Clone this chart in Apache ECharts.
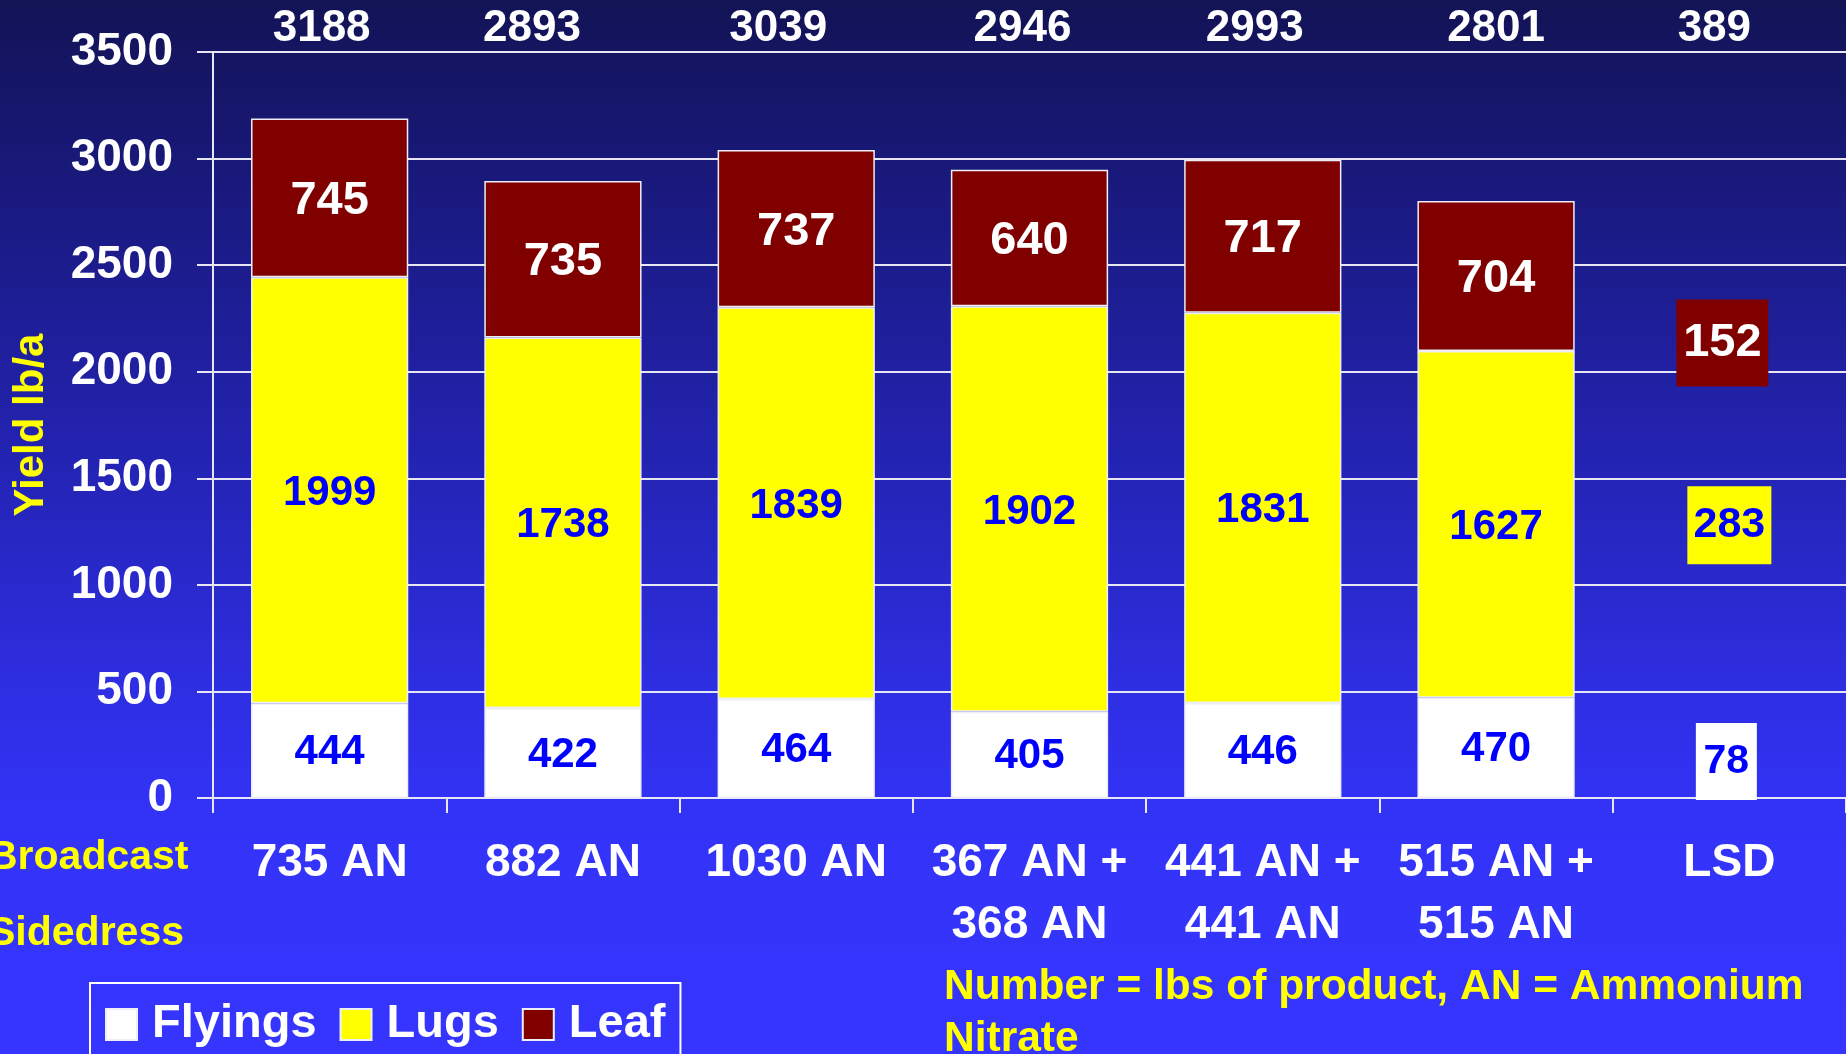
<!DOCTYPE html>
<html>
<head>
<meta charset="utf-8">
<script src="https://cdn.jsdelivr.net/npm/echarts@6/dist/echarts.min.js"></script>
<style>
html,body{margin:0;padding:0;width:1846px;height:1054px;overflow:hidden;}
#chart{width:1846px;height:1054px;}
</style>
</head>
<body>
<div id="chart"></div>
<script>
// ---- data ----
const categories = ['735 AN', '882 AN', '1030 AN', '367 AN +\n368 AN', '441 AN +\n441 AN', '515 AN +\n515 AN', 'LSD'];
const flyings = [444, 422, 464, 405, 446, 470, null];
const lugs = [1999, 1738, 1839, 1902, 1831, 1627, null];
const leaf = [745, 735, 737, 640, 717, 704, null];
const totals = ['3188', '2893', '3039', '2946', '2993', '2801', '389'];
const lsdLabels = ['152', '283', '78'];        // Leaf, Lugs, Flyings LSD
const lsdAnchors = [2135, 1280, 171];          // where each LSD box sits on the yield axis
const yMin = 0, yMax = 3500, yStep = 500;
const seriesNames = ['Flyings', 'Lugs', 'Leaf'];

// ---- style ----
const FONT = '"Liberation Sans", Arial, Helvetica, sans-serif';
const GRIDC = '#e6e6f4';
const colors = { Flyings: '#ffffff', Lugs: '#ffff00', Leaf: '#800000' };
const totalShift = [8, 31, 18, 7, 8, 0, 15]; // px the hand-placed totals sit left of centre

const chart = echarts.init(document.getElementById('chart'), null, { renderer: 'canvas' });

function barSeries(name, data, labelColor, labelSize, dy) {
  return {
    name: name,
    type: 'bar',
    stack: 'yield',
    xAxisIndex: 0,
    barCategoryGap: '32.6%',
    data: data,
    itemStyle: { color: colors[name], borderColor: '#eeeef6', borderWidth: 1.5 },
    label: {
      show: true, position: 'inside', formatter: '{c}', offset: [0, dy],
      color: labelColor, fontFamily: FONT, fontWeight: 'bold', fontSize: labelSize
    },
    emphasis: { disabled: true }
  };
}

const lsdStyles = [
  { color: '#800000', size: [92, 87], off: [-7, 0], text: '#ffffff', fs: 47 },
  { color: '#ffff00', size: [84, 78], off: [0, 0], text: '#0000ff', fs: 43 },
  { color: '#ffffff', size: [61, 77], off: [-3, 0], text: '#0000ff', fs: 41 }
];

const option = {
  animation: false,
  backgroundColor: new echarts.graphic.LinearGradient(0, 0, 0, 1, [
    { offset: 0, color: '#131356' },
    { offset: 0.2, color: '#1a1a82' },
    { offset: 0.45, color: '#2424b6' },
    { offset: 0.65, color: '#2e2ee2' },
    { offset: 0.78, color: '#3333f8' },
    { offset: 1, color: '#3535ff' }
  ]),
  grid: { left: 213, right: 0, top: 52, bottom: 256, outerBoundsMode: 'none', containLabel: false },
  legend: {
    data: seriesNames,
    left: 90, top: 983,
    orient: 'horizontal',
    padding: [18, 15, 40, 15],
    borderColor: '#ffffff', borderWidth: 2,
    itemWidth: 31, itemHeight: 31, itemGap: 23,
    icon: 'rect',
    selectedMode: false,
    textStyle: { color: '#ffffff', fontFamily: FONT, fontWeight: 'bold', fontSize: 47, padding: [0, 0, 0, 10] }
  },
  xAxis: [
    {
      type: 'category', data: categories, position: 'bottom',
      axisLine: { show: true, lineStyle: { color: GRIDC, width: 2 } },
      axisTick: { show: true, length: 15, interval: 0, lineStyle: { color: GRIDC, width: 2 } },
      axisLabel: {
        interval: 0, margin: 34, color: '#ffffff', fontFamily: FONT, fontWeight: 'bold',
        fontSize: 46, lineHeight: 62, hideOverlap: false
      },
      splitLine: { show: false }
    },
    {
      type: 'category', position: 'top',
      data: totals.map((t, i) => ({ value: t, textStyle: { padding: [0, totalShift[i] * 2, 0, 0] } })),
      axisLine: { show: false }, axisTick: { show: false },
      axisLabel: {
        interval: 0, margin: 1, color: '#ffffff', fontFamily: FONT, fontWeight: 'bold',
        fontSize: 44, hideOverlap: false
      },
      splitLine: { show: false }
    }
  ],
  yAxis: {
    type: 'value', min: yMin, max: yMax, interval: yStep,
    name: 'Yield lb/a', nameLocation: 'middle', nameRotate: 90, nameGap: 161,
    nameTextStyle: { color: '#ffff00', fontFamily: FONT, fontWeight: 'bold', fontSize: 42 },
    axisLine: { show: true, lineStyle: { color: GRIDC, width: 2 } },
    axisTick: { show: true, length: 16, lineStyle: { color: GRIDC, width: 2 } },
    axisLabel: {
      margin: 40, color: '#ffffff', fontFamily: FONT, fontWeight: 'bold', fontSize: 46,
      formatter: v => String(v)
    },
    splitLine: { show: true, lineStyle: { color: GRIDC, width: 2 } }
  },
  series: [
    barSeries('Flyings', flyings, '#0000ff', 42, 2),
    barSeries('Lugs', lugs, '#0000ff', 42, 3),
    barSeries('Leaf', leaf, '#ffffff', 47, 3),
    {
      name: 'LSD', type: 'scatter', xAxisIndex: 0, z: 5,
      symbol: 'rect',
      data: lsdLabels.map((t, i) => ({
        value: ['LSD', lsdAnchors[i]],
        name: t,
        symbolSize: lsdStyles[i].size,
        symbolOffset: lsdStyles[i].off,
        itemStyle: { color: lsdStyles[i].color, opacity: 1 },
        label: {
          show: true, position: 'inside', formatter: '{b}',
          color: lsdStyles[i].text, fontFamily: FONT, fontWeight: 'bold', fontSize: lsdStyles[i].fs
        }
      })),
      emphasis: { disabled: true }
    }
  ],
  graphic: [
    { type: 'text', left: -12, top: 861 - 24, style: { text: 'Broadcast', fill: '#ffff00', font: 'bold 41px ' + FONT } },
    { type: 'text', left: -12, top: 937 - 24, style: { text: 'Sidedress', fill: '#ffff00', font: 'bold 41px ' + FONT } },
    { type: 'text', left: 944, top: 961, style: { text: 'Number = lbs of product, AN = Ammonium\nNitrate', fill: '#ffff00', font: 'bold 42.5px ' + FONT, lineHeight: 52 } }
  ]
};
chart.setOption(option);
</script>
</body>
</html>
